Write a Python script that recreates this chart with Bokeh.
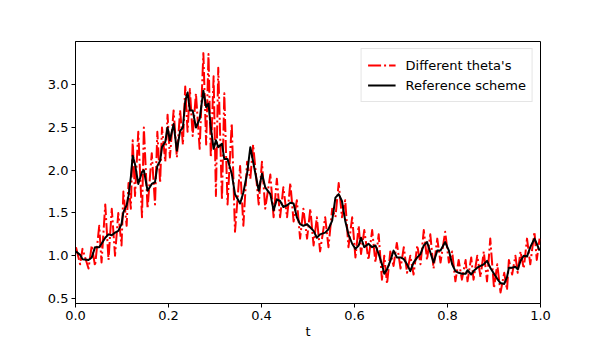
from bokeh.plotting import figure
from bokeh.models import Range1d, NumeralTickFormatter, FixedTicker, Legend, LegendItem
from bokeh.embed import file_html
from bokeh.resources import INLINE

# Reference scheme (black)
t_ref = [0.001, 0.010, 0.015, 0.028, 0.035, 0.042, 0.051, 0.056, 0.064, 0.071,
         0.078, 0.085, 0.092, 0.099, 0.103, 0.110, 0.114, 0.119, 0.123, 0.128,
         0.135, 0.143, 0.147, 0.155, 0.164, 0.171, 0.176, 0.182, 0.186, 0.193,
         0.198, 0.203, 0.211, 0.218, 0.225, 0.231, 0.236, 0.241, 0.246, 0.252,
         0.259, 0.267, 0.275, 0.281, 0.286, 0.291, 0.297, 0.302, 0.307, 0.315,
         0.320, 0.327, 0.336, 0.343, 0.354, 0.361, 0.369, 0.376, 0.382, 0.394,
         0.401, 0.408, 0.419, 0.426, 0.433, 0.440, 0.447, 0.455, 0.462, 0.469,
         0.476, 0.483, 0.490, 0.498, 0.505, 0.512, 0.519, 0.526, 0.537, 0.544,
         0.552, 0.559, 0.566, 0.573, 0.580, 0.587, 0.595, 0.602, 0.609, 0.614,
         0.621, 0.630, 0.638, 0.645, 0.652, 0.659, 0.664, 0.670, 0.677, 0.684,
         0.691, 0.699, 0.706, 0.713, 0.720, 0.727, 0.735, 0.742, 0.749, 0.756,
         0.763, 0.770, 0.778, 0.785, 0.795, 0.803, 0.810, 0.817, 0.824, 0.831,
         0.839, 0.843, 0.851, 0.856, 0.864, 0.871, 0.878, 0.885, 0.892, 0.900,
         0.907, 0.914, 0.922, 0.928, 0.932, 0.939, 0.946, 0.951, 0.957, 0.964,
         0.971, 0.978, 0.987, 0.992, 0.998]
v_ref = [1.05, 1.01, 0.96, 0.95, 0.98, 1.10, 1.10, 1.14, 1.21, 1.25,
         1.24, 1.27, 1.29, 1.37, 1.51, 1.59, 1.70, 1.92, 2.17, 2.07,
         1.84, 1.98, 2.00, 1.76, 1.84, 1.86, 2.05, 2.11, 2.27, 2.33,
         2.50, 2.35, 2.54, 2.23, 2.46, 2.50, 2.81, 2.91, 2.70, 2.70,
         2.50, 2.60, 2.93, 2.74, 2.78, 2.50, 2.25, 2.35, 2.27, 2.31,
         2.13, 2.13, 1.96, 1.72, 1.61, 1.74, 1.96, 2.27, 2.10, 1.76,
         1.96, 1.80, 1.72, 1.53, 1.66, 1.64, 1.57, 1.59, 1.62, 1.61,
         1.45, 1.37, 1.35, 1.37, 1.33, 1.29, 1.21, 1.25, 1.27, 1.31,
         1.41, 1.68, 1.72, 1.64, 1.41, 1.25, 1.14, 1.08, 1.12, 1.21,
         1.10, 1.14, 1.10, 1.12, 1.02, 0.90, 0.79, 0.84, 0.94, 1.06,
         0.98, 0.98, 0.96, 0.90, 0.82, 0.92, 0.98, 1.02, 1.12, 1.16,
         1.04, 0.92, 1.06, 1.06, 1.16, 1.06, 0.90, 0.82, 0.80, 0.79,
         0.79, 0.83, 0.78, 0.82, 0.86, 0.88, 0.90, 0.94, 0.86, 0.79,
         0.73, 0.68, 0.67, 0.75, 0.86, 0.86, 0.87, 0.84, 0.94, 1.00,
         0.99, 1.10, 1.20, 1.14, 1.06]

# Different theta's (red, oscillating) at the same times
v_theta = [1.10, 0.90, 1.08, 0.85, 1.12, 0.88, 1.35, 0.92, 1.60, 0.95,
           1.55, 1.00, 1.50, 1.12, 1.75, 1.35, 1.85, 1.55, 2.35, 1.70,
           2.45, 1.45, 2.50, 1.55, 2.20, 1.60, 2.45, 1.85, 2.50, 2.10,
           2.65, 2.15, 2.70, 2.15, 2.70, 2.30, 2.98, 2.45, 2.95, 2.40,
           2.90, 2.25, 3.37, 2.30, 3.36, 2.15, 3.10, 1.70, 3.20, 1.65,
           2.90, 1.60, 2.55, 1.28, 2.05, 1.35, 2.10, 1.90, 2.30, 1.60,
           2.10, 1.55, 1.95, 1.45, 1.90, 1.45, 1.80, 1.45, 1.85, 1.40,
           1.65, 1.20, 1.55, 1.20, 1.55, 1.12, 1.45, 1.05, 1.45, 1.10,
           1.55, 1.45, 1.85, 1.45, 1.65, 1.10, 1.45, 0.98, 1.35, 1.02,
           1.30, 0.95, 1.30, 0.92, 1.25, 0.72, 1.00, 0.67, 1.05, 0.88,
           1.15, 0.85, 1.10, 0.80, 1.00, 0.78, 1.12, 0.90, 1.30, 0.95,
           1.25, 0.85, 1.20, 0.92, 1.28, 0.92, 1.05, 0.70, 0.95, 0.72,
           0.95, 0.70, 0.98, 0.72, 1.00, 0.75, 1.05, 0.70, 1.20, 0.62,
           0.90, 0.57, 0.80, 0.60, 0.95, 0.78, 1.00, 0.80, 1.05, 0.85,
           1.20, 0.90, 1.28, 0.95, 1.20]

x_ticks = [0.0, 0.2, 0.4, 0.6, 0.8, 1.0]
y_ticks = [0.5, 1.0, 1.5, 2.0, 2.5, 3.0]
x_label = "t"

FONT = "DejaVu Sans"
Y_MIN, Y_MAX = 0.441, 3.506

p = figure(width=600, height=341, output_backend="svg", toolbar_location=None,
           x_range=Range1d(0.0, 1.0), y_range=Range1d(Y_MIN, Y_MAX),
           min_border_left=75, min_border_right=60, min_border_top=41, min_border_bottom=38)
p.background_fill_color = "white"
p.border_fill_color = "white"
p.outline_line_color = "black"
p.outline_line_width = 1
p.xgrid.visible = False
p.ygrid.visible = False

r_theta = p.line(t_ref, v_theta, line_color="#ff0000", line_width=2, line_dash="13 3 2 3",
                 line_join="round")
r_ref = p.line(t_ref, v_ref, line_color="black", line_width=2, line_join="round")

for ax, ticks in ((p.xaxis[0], x_ticks), (p.yaxis[0], y_ticks)):
    ax.ticker = FixedTicker(ticks=ticks)
    ax.formatter = NumeralTickFormatter(format="0.0")
    ax.minor_tick_line_color = None
    ax.major_tick_in = 0
    ax.major_tick_out = 4
    ax.major_tick_line_color = "black"
    ax.axis_line_color = "black"
    ax.major_label_text_font = FONT
    ax.major_label_text_font_size = "13px"
    ax.major_label_text_color = "black"
    ax.major_label_standoff = 3

p.xaxis[0].axis_label = x_label
p.xaxis[0].axis_label_text_font = FONT
p.xaxis[0].axis_label_text_font_size = "13px"
p.xaxis[0].axis_label_text_font_style = "normal"
p.xaxis[0].axis_label_text_color = "black"
p.xaxis[0].axis_label_standoff = 1

legend = Legend(items=[LegendItem(label="Different theta's", renderers=[r_theta]),
                       LegendItem(label="Reference scheme", renderers=[r_ref])],
                location="top_right")
legend.margin = 7
legend.padding = 6
legend.spacing = 0
legend.glyph_width = 28
legend.glyph_height = 20
legend.label_height = 20
legend.label_standoff = 10
legend.label_text_font = FONT
legend.label_text_font_size = "13px"
legend.label_text_color = "black"
legend.border_line_color = "#cccccc"
legend.border_line_width = 1
legend.background_fill_alpha = 0.8
p.add_layout(legend)

open("out.html", "w").write(file_html(p, INLINE))
